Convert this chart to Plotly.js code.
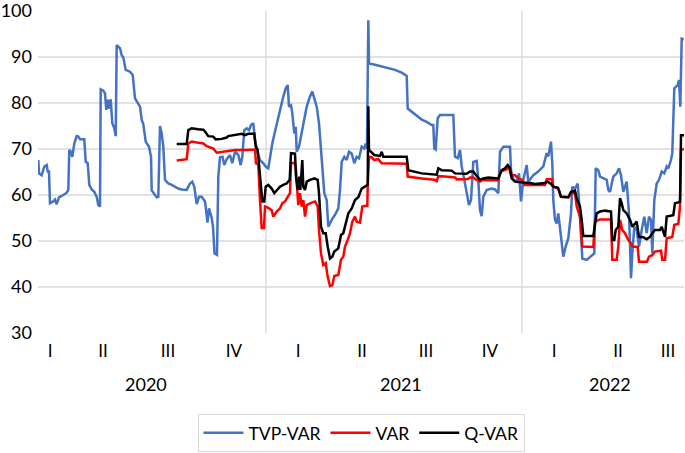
<!DOCTYPE html>
<html>
<head>
<meta charset="utf-8">
<script src="https://cdn.plot.ly/plotly-3.0.1.min.js"></script>
<style>html,body{margin:0;padding:0;background:#fff;}#chart{width:685px;height:453px;}</style>
</head>
<body>
<div id="chart"></div>
<script>
// observation index (trading-day position) and value pairs
const tvpVar = [
[0.3,67.6],[1,64.7],[3.7,64.3],[6.3,66.2],[8.7,66.5],[9.7,65.1],[11,65.1],[12,58.2],[15.3,58.6],[17,59],[18.7,58],[21,59.5],[25.3,60],[28.7,60.5],[30.3,61.1],[31.3,69.8],[33,69.4],[34.3,68.3],[36.3,71.2],[38.7,72.8],[40.3,72.7],[42,72.1],[46.3,72.1],[47.7,67.2],[49.7,66.9],[51.3,62.2],[53.7,61.2],[56.3,60.7],[58.7,59.6],[60.3,57.8],[62,57.5],
[62.7,83],[65.3,82.7],[67,82.1],[68.3,78.5],[69.7,80.7],[71,78.8],[72.7,80.8],[74.3,75.6],[76.3,74.5],[77.7,72.8],[78.7,92.6],[82,91.9],[83.7,90.4],[85.3,89.9],[87.7,87.2],[92,86.8],[94.7,86.1],[97,81],[99.7,79.9],[102,79.2],[103.7,76.3],[105.3,75.4],[107.7,71.6],[111,70.5],[113,68.3],[113.7,61],[116.3,60.2],[118.7,59.5],[120.3,59.6],
[122,75],[123.7,73.4],[125.3,70.5],[127,63.3],[130.3,62.5],[133.7,62.2],[137,61.8],[140.3,61.4],[143.7,61.2],[148.7,61.1],[152,62.5],[154.3,62.9],[156.3,61.8],[158.7,58],[161,59.6],[163.7,59.6],[167,58.6],
[169.5,54],[171,57.1],[173.7,55],[175,53.1],[176.5,47.3],[179,47],[180.3,64],[182,68.2],[184.5,68.3],[186.3,66.5],[188.7,67.8],[192,68.7],[194.3,66.9],[197,69.4],[200.3,68.7],[202.7,66.5],[204.3,68.3],[206.3,74.1],[208.7,74.5],[211,74.1],[213,75.2],[215.3,75.6],[217,72],[219.7,69.1],[222,67.6],[225.3,66.9],[227.7,66.2],[230.3,65.8],
[232,68.3],[234.3,71.2],[237,73.8],[240.3,77],[243,79.2],[245.3,81.4],[247.7,83.2],[249.7,83.9],[251,79.2],[253,79.5],[254.3,77.8],[256.3,73.4],[257.7,74.8],[258.7,69.4],[261,70.5],[263,72.7],[265.3,75.6],[268.7,79.2],[272,81.4],[274.3,82.5],[276.3,81],[278.7,79.2],[281,75.6],[283,69.1],[284.3,66.9],[286.3,60.4],[288.7,58.9],[290.3,53.1],[293.7,54.6],[297,55.7],[300.3,57.1],[302,61.1],[303.7,67.2],[306.3,68.3],[308.7,67.6],[311,69.4],[313.7,69],[316.3,66.9],[318.7,68.3],[321,68],[323.7,70.5],[326.3,70.1],[327.7,71.2],[329,70.1],
[330.3,98],[331,88.6],[337,88.3],[343.7,87.9],[350.3,87.5],[357,87.2],[363.7,86.6],[368.7,85.9],[369.7,78.8],[373.7,78.1],[378.7,77.4],[383.7,76.4],[388.7,75.9],[393.7,75.2],[395.3,75.2],[396.3,70.1],[397.7,69.9],[399.7,76.7],[402,77.4],[415.3,77.4],[417,68.3],[419.7,68],[422,69.8],[423.7,66.2],[426.3,63.3],[428.7,60.4],[431,57.8],[433,58.9],[435.3,67.2],[438.7,67.4],[440.3,63.3],[442,56.7],[443.7,55.4],[445.3,59.6],[448.7,61.1],[453.7,61.4],[457,61.2],[460.3,60.4],[462,69.4],[465.3,70.5],[472,70.5],[473,65.4],[475.3,63.3],[478.7,62.9],[481,64.7],[483,58.6],[485.3,63.3],
[488.7,66.5],[490.3,62.9],[495.3,64.3],[500.3,65.1],[505.3,66.2],[508.7,69.1],[510.3,68.4],[513,71.6],[514.3,66.9],[515.3,58.9],[517,54.6],[518.7,53.8],[520.3,56],[523,50.2],[525.3,46.6],[527.7,48.8],[530.3,50.6],[533,56],[534.3,61.8],[537,61.4],[539.7,62.5],[541,58.9],[542.3,53.1],[544.3,46.2],[548.7,45.9],[553,46.6],[556.3,47.3],[557.7,65.8],[560.3,65.4],[562,64],[565.3,63.6],[568.7,63.3],[570.3,61.1],[572,60.7],[575.3,64],[578.7,64.7],[581,65.8],[583,64.3],[585.3,60.7],[588.7,62.9],[591,56],[593,41.9],[594.3,47.3],[596.3,53.1],[598.7,52.4],[601,48.8],[603.7,52.4],[606.3,55.3],[608.7,51.7],[611,55.3],[613,54.6],[614.3,47.3],[616.3,58.9],[618.7,62.5],[621,63.3],[623.7,65.1],[626.3,64.7],[628.7,66.2],[630.3,65.8],[633,67.6],[634.3,69.1],[636.3,83.2],[639.7,83.9],[641,85],[642.3,79.2],[643,89.3],[643.7,94],[645.7,93.8]
];

const varSeries = [
[138.7,67.5],[148.7,67.8],[150.3,71.2],[153.7,71.6],[159,71.4],[165.3,71.2],[168.7,70.6],[172,70.4],[175.3,70.1],[178.7,69.2],[182,69.3],[187,69.4],[192,69.6],[197,69.8],[207,69.8],[212,69.9],[217,69.9],[218,66.9],[220.3,66.7],[222,58.9],[223.7,52.8],[226,52.8],[227,57.5],[230.3,57.2],[233.7,56.7],[235.3,55.3],[238.7,56.4],[242,57.1],[244.3,58.2],[247,58.6],[249.7,59.6],[252,60.4],[253,66.9],[256.3,67],[257.7,66.2],[258.7,61.8],[260.3,57.8],[262,60.4],[263.7,57.5],[265.3,58.9],[267,55.3],[268.7,57.8],[272,58.2],[277,58.6],[279.7,57.5],[281,52.4],[283,47.3],[285.3,44.8],[287.7,45.2],[289.7,42.2],[292,40.2],[294.3,40.4],[296.3,42.4],[300.3,42.6],[303,45.9],[305.3,46.6],[307,48.8],[309.7,50.2],[312,51.7],[314.3,54.2],[317,55.3],[318.7,54.2],[322,54],[324.3,57.5],[329.3,57.7],[329.7,61.8],[331,68.3],[333.7,68.2],[336.3,67.6],[340.3,67.8],[343.7,66.9],[368.7,66.8],[369.7,64],[383.7,63.6],[396.3,63.3],[398.7,63],[400.3,64.1],[407,64],[417,63.8],[418.7,63.4],[430,63.5],[432,63.8],[435.3,63.8],[437.7,63.4],[442,62.9],[444,63.2],[450,63.2],[460,63.2],[462.7,65.1],[468.7,65.6],[470.3,66.5],[473,64.3],[477,64.3],[480.3,63.6],[483.7,63.3],[487,62.2],[507,62.2],[508.7,63.4],[513.7,63.4],[515.3,61.8],[520.3,61.4],[523,59.6],[530.3,59.5],[533.7,60.4],[537,60.5],[538.7,57.5],[542,55.3],[544.3,48.8],[555.3,48.7],[557,54.2],[562,54.7],[573,54.7],[574.3,45.9],[578.7,45.9],[580.3,48.8],[582,54.6],[584.3,52.4],[587,51.7],[590.3,50.2],[593,49.5],[594.3,48.8],[599.7,48.7],[601,45.5],[609,45.5],[611,46.6],[614.3,46.9],[617,47.7],[623,47.9],[624.3,45.9],[627,45.9],[628.7,50.6],[634.3,50.9],[636.3,53.5],[640.3,53.7],[642,57.5],[643,69.8],[646,70]
];

const qVar = [
[138.7,71.1],[145.3,71.2],[148.7,71.1],[150.3,74.1],[153.7,74.5],[160.3,74.3],[165.3,74.2],[167,73.8],[170.3,72.8],[175.3,72.7],[177.7,72.1],[183.7,72.2],[188.7,72.5],[190.3,72.8],[197,73],[203.7,73.3],[207,73],[210.3,73.3],[216.3,73.3],[217.7,70.5],[219.7,69.8],[221,66.2],[223,62.5],[224.3,58.6],[226.3,58.6],[227.7,61.8],[230.3,62.2],[233.7,61.4],[236.3,60.4],[238.7,61.1],[242,61.8],[245.3,62.2],[248.7,62.5],[251.7,63.3],[253,69.1],[257,69],[258,64],[259.7,61.1],[261.3,64],[262.3,61.1],[264.3,67.6],[265.3,61.8],[267,61.1],[268.7,62.9],[272,63.3],[276.3,63.6],[279.7,63.3],[281,60.4],[283,53.1],[285.3,51.7],[287.7,51.7],[289.7,48.8],[292,46.2],[294.3,46.6],[296.3,47.7],[300.3,48.4],[303,51.3],[305.3,51.7],[307.7,53.8],[310.3,56],[313.7,57.1],[317,58.9],[320.3,59.5],[323.7,61.4],[329.7,62.2],[330.3,79.3],[331,69.8],[333,69.4],[336.3,68.7],[342,68.5],[343.7,69.4],[345.3,68.3],[368.7,68.3],[370.3,65.4],[375.3,65.1],[383.7,64.7],[398.7,64.4],[400.3,65.8],[403.7,65.4],[413.7,65.3],[417,64.7],[428.7,64.6],[432,65.1],[435.3,65.1],[437.7,64.4],[442,63.3],[445.3,63.6],[450.3,63.8],[460.3,63.6],[463.7,65.4],[467,65.8],[469.7,66.5],[472,65.8],[473.7,63.6],[477,62.9],[480.3,62.8],[483.7,62.6],[485.3,62.7],[492,62.6],[497,62.4],[507,62.6],[509.7,62.9],[513,62.4],[515.3,61.8],[519.7,61.6],[521,61],[523,59.6],[530.3,59.5],[533,60.7],[537,60.9],[538.7,59.3],[542,57.5],[543.7,54.6],[545.3,51.1],[555.3,51.1],[558.7,56],[562,56.4],[567,56.6],[573,56.4],[574.3,50.2],[576.3,50.2],[577.7,52.4],[580.3,53.1],[582,59.3],[583.7,58.2],[585.3,56.7],[588.7,56],[590.3,55.3],[592,54.6],[594.3,53.1],[598.7,54.2],[601,50.9],[605.3,50.8],[608.7,50.4],[612,50.9],[614.3,51.7],[617,52.4],[622,52.4],[623.7,53.1],[627,50.9],[628.7,55.3],[635.3,55.6],[637,58.2],[642,58.5],[643,73],[646,73]
];

const seriesNames = ['TVP-VAR', 'VAR', 'Q-VAR'];
const quarterPos = [12, 65, 130, 196, 260, 324, 388, 452, 516, 580, 630];
const quarterLabels = ['I', 'II', 'III', 'IV', 'I', 'II', 'III', 'IV', 'I', 'II', 'III'];
const yearPos = [108, 363, 572];
const yearLabels = ['2020', '2021', '2022'];
const yearBreaks = [228, 484];
const yTicks = [30, 40, 50, 60, 70, 80, 90, 100];
const yGrid = [40, 50, 60, 70, 80, 90];

const FONT = 'Lato, "Open Sans", sans-serif';
const colors = ['#4472C4', '#FF0000', '#000000'];
const allSeries = [tvpVar, varSeries, qVar];

const traces = allSeries.map((s, i) => ({
  type: 'scatter', mode: 'lines', name: seriesNames[i],
  x: s.map(p => p[0]), y: s.map(p => p[1]),
  line: {color: colors[i], width: 2.5}
}));

const shapes = [];
yGrid.forEach(v => shapes.push({type: 'line', xref: 'paper', yref: 'y', x0: 0, x1: 1, y0: v, y1: v, layer: 'below', line: {color: '#d9d9d9', width: 1.3}}));
yearBreaks.forEach(v => shapes.push({type: 'line', xref: 'x', yref: 'paper', x0: v, x1: v, y0: 0, y1: 1, layer: 'below', line: {color: '#d9d9d9', width: 1.3}}));

const annotations = yearLabels.map((t, i) => ({
  xref: 'x', yref: 'paper', x: yearPos[i], y: -0.158, text: t, showarrow: false,
  xanchor: 'center', yanchor: 'middle', font: {family: FONT, size: 18, color: '#000'}
}));

const layout = {
  width: 685, height: 453,
  margin: {l: 38, r: 1, t: 11, b: 120, pad: 0},
  paper_bgcolor: '#fff', plot_bgcolor: '#fff',
  showlegend: true,
  font: {family: FONT, size: 17, color: '#000'},
  xaxis: {
    range: [0, 646], tickmode: 'array', tickvals: quarterPos, ticktext: quarterLabels,
    showgrid: false, zeroline: false, showline: false, ticks: '',
    tickfont: {family: FONT, size: 17, color: '#000'}, ticklabelstandoff: 6,
    ticklabeloverflow: 'allow', fixedrange: true
  },
  yaxis: {
    range: [30, 100], tickmode: 'array', tickvals: yTicks,
    showgrid: false, zeroline: false, showline: false, ticks: '',
    tickfont: {family: FONT, size: 18, color: '#000'}, ticklabelstandoff: 5,
    ticklabeloverflow: 'allow', fixedrange: true
  },
  legend: {
    orientation: 'h', x: 0.5, xanchor: 'center', y: -0.369, yanchor: 'bottom',
    bordercolor: '#d9d9d9', borderwidth: 1, bgcolor: '#fff', itemwidth: 40,
    font: {family: FONT, size: 17.5, color: '#000'}
  },
  shapes: shapes,
  annotations: annotations
};

Plotly.newPlot('chart', traces, layout, {staticPlot: true, displayModeBar: false});
</script>
</body>
</html>
